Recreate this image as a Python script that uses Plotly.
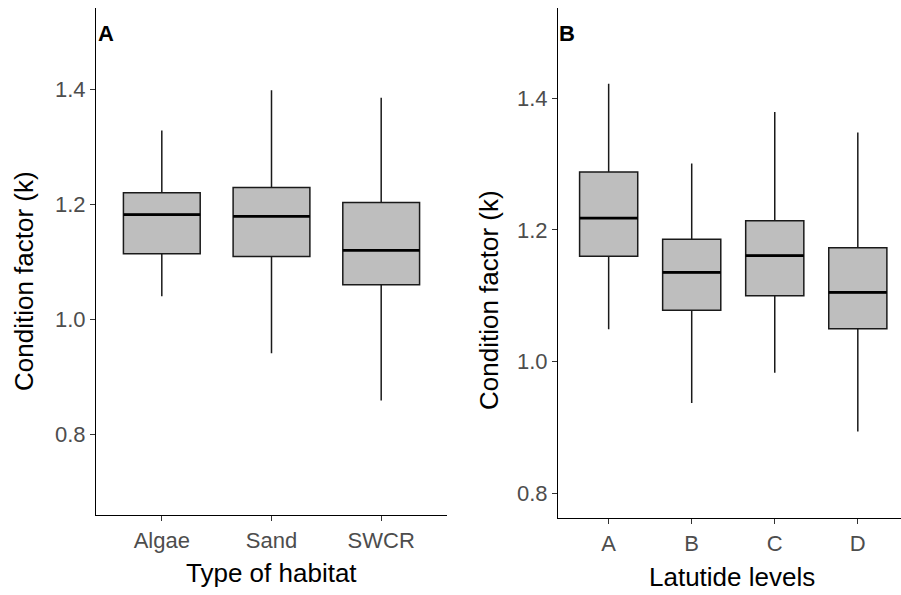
import plotly.graph_objects as go

W, H = 901, 595

# Panel A: type of habitat
habitat = ["Algae", "Sand", "SWCR"]
hab_lower = [1.040, 0.941, 0.859]
hab_q1 = [1.114, 1.109, 1.060]
hab_median = [1.182, 1.179, 1.120]
hab_q3 = [1.220, 1.229, 1.203]
hab_upper = [1.328, 1.398, 1.385]

# Panel B: latitude levels
latitude = ["A", "B", "C", "D"]
lat_lower = [1.049, 0.937, 0.983, 0.894]
lat_q1 = [1.160, 1.078, 1.100, 1.050]
lat_median = [1.218, 1.1355, 1.161, 1.105]
lat_q3 = [1.288, 1.186, 1.214, 1.173]
lat_upper = [1.422, 1.301, 1.379, 1.348]

y_ticks = [0.8, 1.0, 1.2, 1.4]
BOXW = 0.7

FONT = "Liberation Sans, Arial, sans-serif"
fig = go.Figure()


def add_panel(cats, lo, q1, med, q3, up, xa, ya):
    pos = list(range(1, len(cats) + 1))
    fig.add_trace(go.Box(
        x=pos, q1=q1, median=med, q3=q3, lowerfence=lo, upperfence=up,
        width=BOXW, whiskerwidth=0, boxpoints=False,
        fillcolor="#bebebe", line=dict(color="#1a1a1a", width=1.5),
        xaxis=xa, yaxis=ya, showlegend=False, hoverinfo="skip"))
    mx, my = [], []
    for p, m in zip(pos, med):
        mx += [p - BOXW / 2, p + BOXW / 2, None]
        my += [m, m, None]
    fig.add_trace(go.Scatter(
        x=mx, y=my, mode="lines", line=dict(color="#000000", width=2.8),
        xaxis=xa, yaxis=ya, showlegend=False, hoverinfo="skip"))


add_panel(habitat, hab_lower, hab_q1, hab_median, hab_q3, hab_upper, "x", "y")
add_panel(latitude, lat_lower, lat_q1, lat_median, lat_q3, lat_upper, "x2", "y2")

axis_common = dict(showgrid=False, zeroline=False, showline=True,
                   linecolor="#000000", linewidth=1.2, ticks="outside",
                   ticklen=5, tickwidth=1.2, tickcolor="#333333",
                   tickfont=dict(family=FONT, size=22, color="#4d4d4d"),
                   automargin=False)

def px_x(p):
    return p / W

def px_y(p):
    return 1 - p / H

fig.update_layout(
    width=W, height=H, margin=dict(l=0, r=0, t=0, b=0),
    plot_bgcolor="white", paper_bgcolor="white",
    xaxis=dict(domain=[px_x(96), px_x(447)], range=[0.4, 3.6],
               tickvals=[1, 2, 3], ticktext=habitat, anchor="y", **axis_common),
    yaxis=dict(domain=[px_y(515), px_y(8)], range=[0.66, 1.541],
               tickvals=y_ticks, tickformat=".1f", anchor="x", **axis_common),
    xaxis2=dict(domain=[px_x(558), 1.0], range=[0.39, 4.52],
                tickvals=[1, 2, 3, 4], ticktext=latitude, anchor="y2", **axis_common),
    yaxis2=dict(domain=[px_y(518), px_y(8)], range=[0.7625, 1.537],
                tickvals=y_ticks, tickformat=".1f", anchor="x2", **axis_common),
)

ann = [
    dict(text="<b>A</b>", x=px_x(96), y=px_y(33), xanchor="left", yanchor="middle",
         font=dict(family=FONT, size=22, color="#000")),
    dict(text="<b>B</b>", x=px_x(557), y=px_y(33), xanchor="left", yanchor="middle",
         font=dict(family=FONT, size=22, color="#000")),
    dict(text="Condition factor (k)", x=px_x(24), y=px_y(281), textangle=-90,
         xanchor="center", yanchor="middle", font=dict(family=FONT, size=26, color="#000")),
    dict(text="Condition factor (k)", x=px_x(489), y=px_y(300), textangle=-90,
         xanchor="center", yanchor="middle", font=dict(family=FONT, size=26, color="#000")),
    dict(text="Type of habitat", x=px_x(271), y=px_y(573), xanchor="center", yanchor="middle",
         font=dict(family=FONT, size=26, color="#000")),
    dict(text="Latutide levels", x=px_x(732), y=px_y(577), xanchor="center", yanchor="middle",
         font=dict(family=FONT, size=26, color="#000")),
]
for a in ann:
    a.update(xref="paper", yref="paper", showarrow=False)
fig.update_layout(annotations=ann)

fig.write_html("out.html")
